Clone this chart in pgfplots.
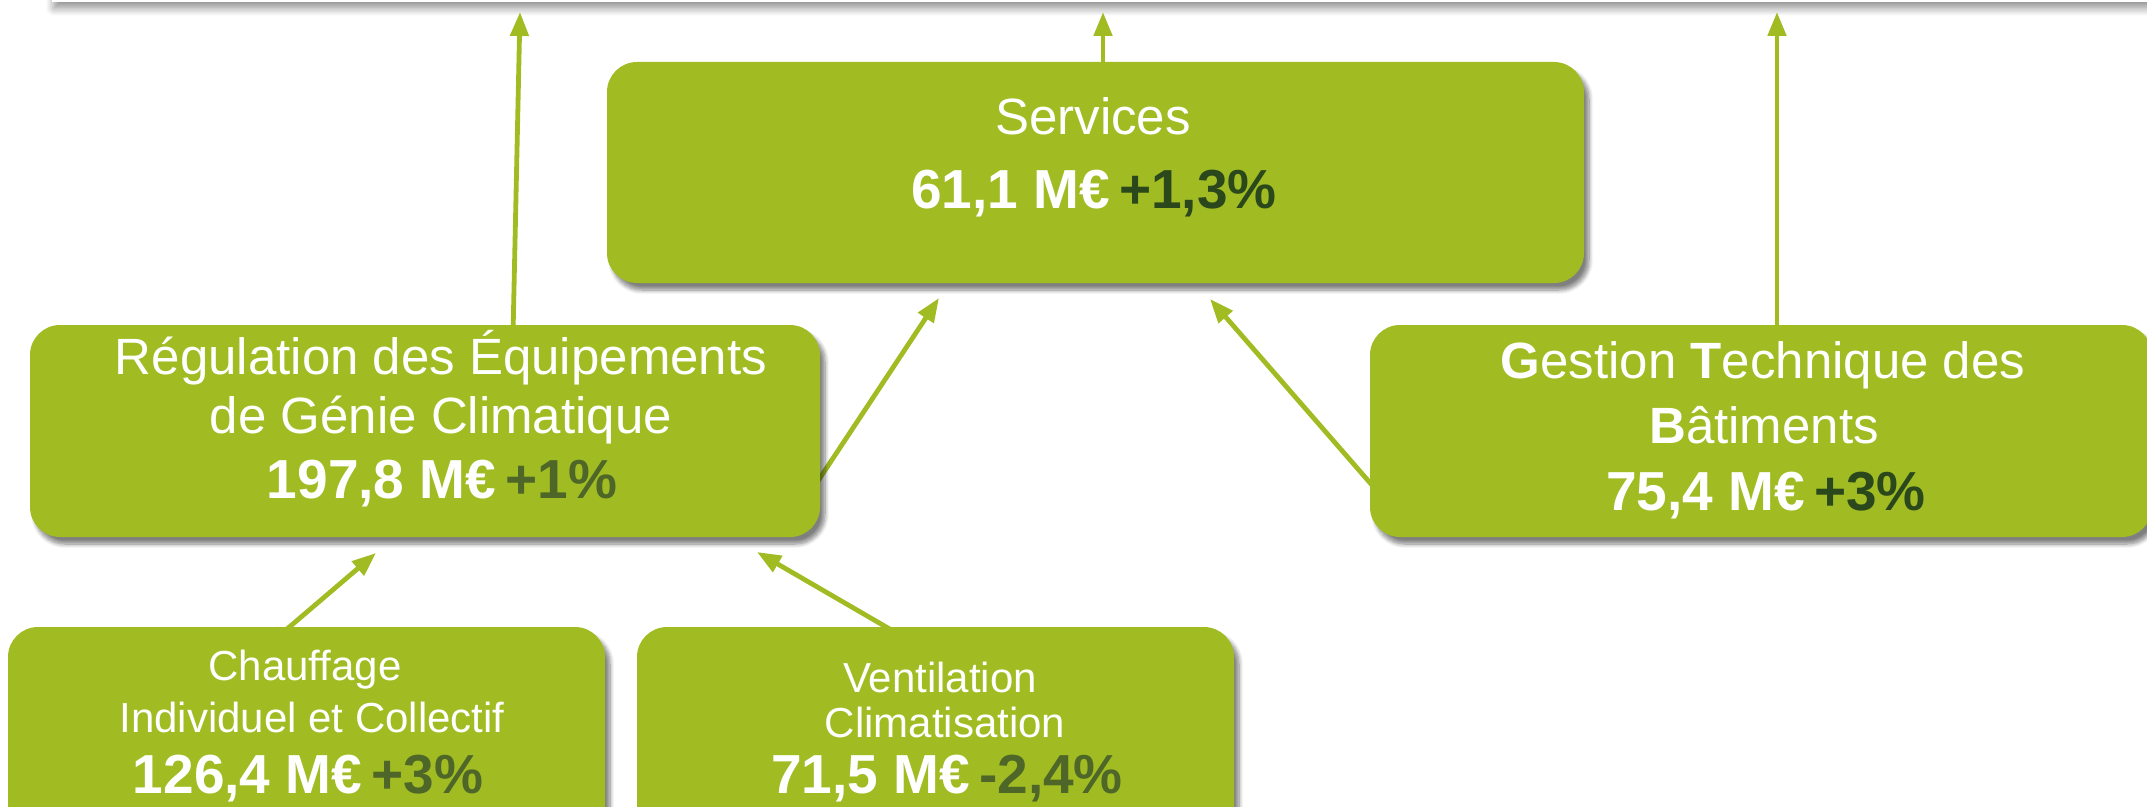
\documentclass[border=0pt]{standalone}
\usepackage{fontspec}
\setmainfont{Liberation Sans}
\usepackage{pgfplots}
\pgfplotsset{compat=1.18}
\usetikzlibrary{arrows.meta,shadows.blur}
\definecolor{boxgreen}{RGB}{161,188,34}
\definecolor{pctdark}{RGB}{42,72,28}
\definecolor{pctolive}{RGB}{78,102,40}
\newcommand{\fs}[1]{\fontsize{#1}{#1}\selectfont}
\begin{document}
\begin{tikzpicture}
\begin{axis}[
  width=1073.5pt, height=403pt, scale only axis,
  xmin=0, xmax=2147, ymin=0, ymax=806, y dir=reverse,
  hide axis, clip=false,
]
\coordinate (sw) at (axis cs:0,806);
\coordinate (ne) at (axis cs:2147,0);
% top band
\fill[white, blur shadow={shadow xshift=1pt, shadow yshift=-3pt, shadow blur radius=4pt, shadow blur steps=10, shadow opacity=45}]
  (axis cs:52,-80) rectangle (axis cs:2250,2);
% arrows
\tikzset{ar/.style={boxgreen, line width=2.4pt, -{Triangle[length=12pt,width=9pt]}}}
\addplot[ar] coordinates {(513,335) (520,12)};
\addplot[ar] coordinates {(1103,70) (1103,12)};
\addplot[ar] coordinates {(1777,335) (1777,12)};
\addplot[ar] coordinates {(812,490) (939,298)};
\addplot[ar] coordinates {(1378,492) (1210,299)};
\addplot[ar] coordinates {(280,635) (376,553)};
\addplot[ar] coordinates {(900,635) (757,552)};
% boxes
\tikzset{bx/.style={fill=boxgreen, rounded corners=15pt,
  blur shadow={shadow xshift=2.5pt, shadow yshift=-3.5pt, shadow blur steps=8, shadow opacity=50}}}
\fill[bx] (axis cs:607,62) rectangle (axis cs:1584,283);
\fill[bx] (axis cs:30,325) rectangle (axis cs:820,537);
\fill[bx] (axis cs:1370,325) rectangle (axis cs:2152,537);
\fill[bx] (axis cs:8,627) rectangle (axis cs:605,850);
\fill[bx] (axis cs:637,627) rectangle (axis cs:1234,850);
% texts
\tikzset{tx/.style={anchor=base, text=white, inner sep=0pt}}
\node[tx, font=\fs{25.5}] at (axis cs:1093,135) {Services};
\node[tx, font=\fs{27.5}\bfseries] at (axis cs:1094,208) {61,1 M€\,\textcolor{pctdark}{+1,3\%}};

\node[tx, font=\fs{25.5}] at (axis cs:441,374) {Régulation des Équipements};
\node[tx, font=\fs{25.5}] at (axis cs:441,433) {de Génie Climatique};
\node[tx, font=\fs{27.5}\bfseries] at (axis cs:442,498) {197,8 M€\,\textcolor{pctolive}{+1\%}};

\node[tx, font=\fs{25.5}] at (axis cs:1763,378) {\textbf{G}estion \textbf{T}echnique des};
\node[tx, font=\fs{25.5}] at (axis cs:1764,443) {\textbf{B}âtiments};
\node[tx, font=\fs{27.5}\bfseries] at (axis cs:1766,510) {75,4 M€\,\textcolor{pctdark}{+3\%}};

\node[tx, font=\fs{21}] at (axis cs:305,680) {Chauffage};
\node[tx, font=\fs{21}] at (axis cs:312,732) {Individuel et Collectif};
\node[tx, font=\fs{27.5}\bfseries] at (axis cs:308,793) {126,4 M€\,\textcolor{pctolive}{+3\%}};

\node[tx, font=\fs{21}] at (axis cs:940,692) {Ventilation};
\node[tx, font=\fs{21}] at (axis cs:945,737) {Climatisation};
\node[tx, font=\fs{27.5}\bfseries] at (axis cs:947,793) {71,5 M€\,\textcolor{pctolive}{-2,4\%}};
\end{axis}
\pgfresetboundingbox
\path[use as bounding box] (sw) rectangle (ne);
\end{tikzpicture}
\end{document}
